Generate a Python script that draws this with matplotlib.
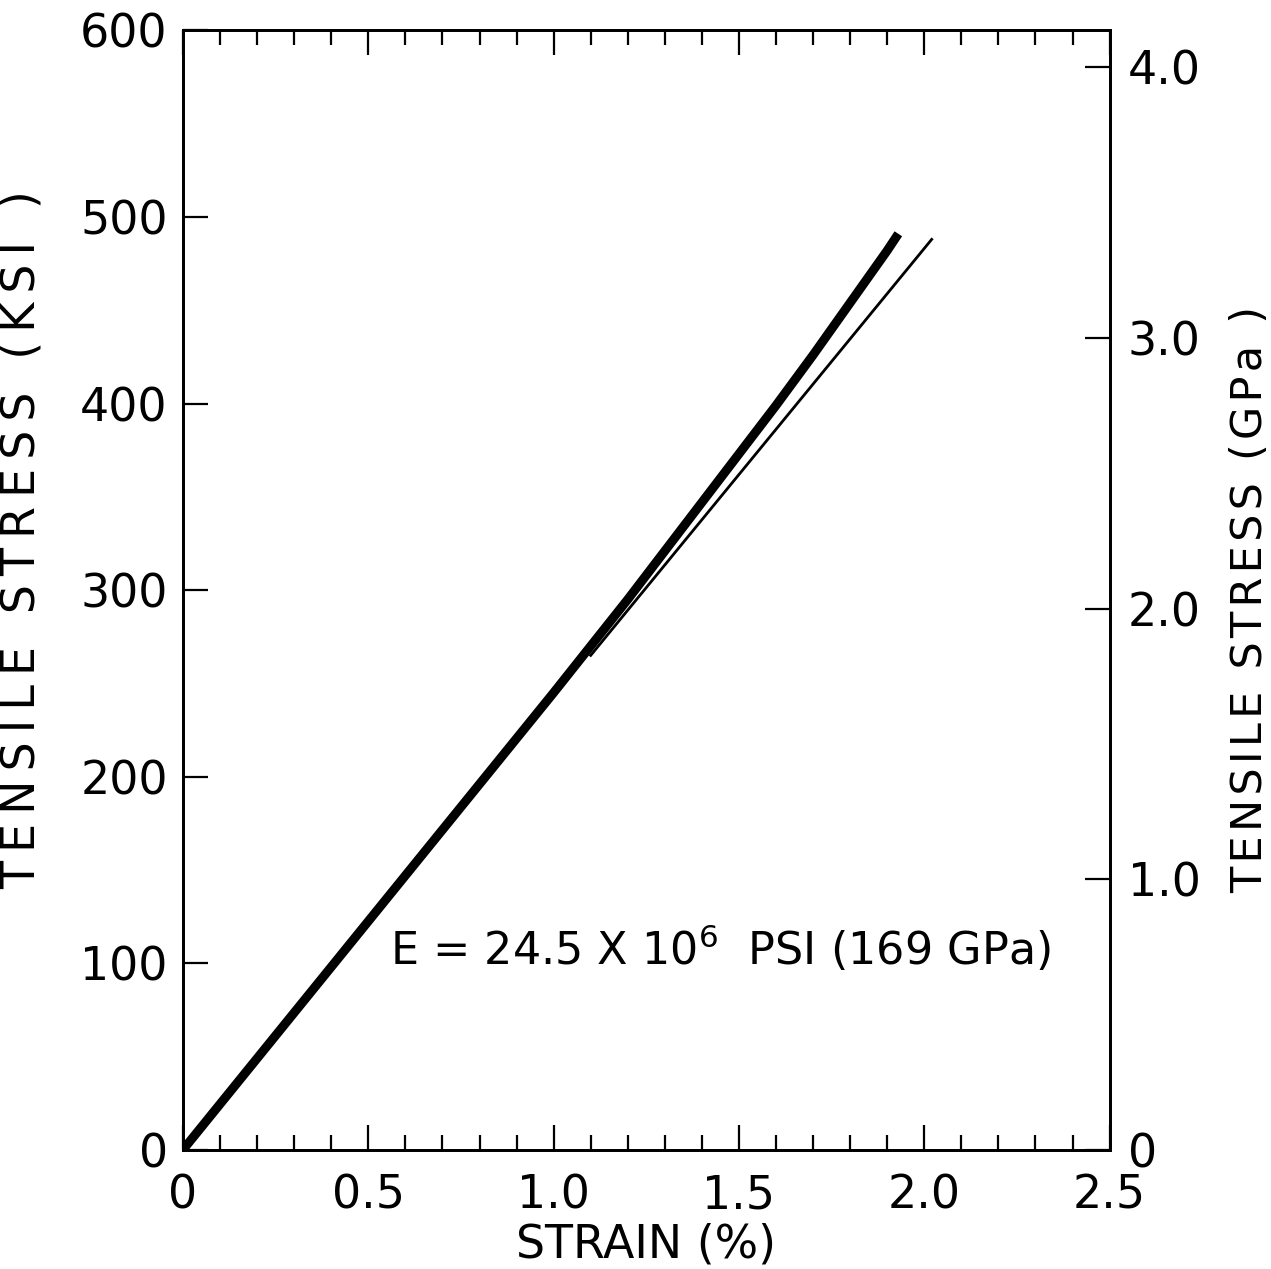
import matplotlib
matplotlib.use("Agg")
import matplotlib.pyplot as plt
from matplotlib.ticker import MultipleLocator, FixedLocator

# curva medida (ksi vs % de deformação)
strain_curve = [0.0, 0.2, 0.4, 0.6, 0.8, 1.0, 1.1, 1.2, 1.3, 1.4, 1.5, 1.6, 1.7, 1.8, 1.9, 1.93]
stress_curve = [0, 49, 98, 147, 196, 245, 270, 295, 321, 347, 373, 399, 426, 454, 482, 491]

# recta do módulo inicial
strain_fit = [1.10, 2.02]
stress_fit = [265, 488]

x_ticks = [0, 0.5, 1.0, 1.5, 2.0, 2.5]
x_labels = ["0", "0.5", "1.0", "1.5", "2.0", "2.5"]
ksi_ticks = [0, 100, 200, 300, 400, 500, 600]
gpa_ticks = [0, 1.0, 2.0, 3.0, 4.0]
gpa_labels = ["0", "1.0", "2.0", "3.0", "4.0"]

KSI_TO_GPA = 0.0068948


def espacado(texto, sep):
    # imita o espaçamento largo das letras do desenho original
    return sep.join(texto)


plt.rcParams["font.family"] = ["DejaVu Sans"]

fig = plt.figure(figsize=(12.71, 12.69), dpi=100)
ax = fig.add_axes([0.144, 0.094, 0.729, 0.882])

ax.plot(strain_curve, stress_curve, color="black", linewidth=6.5, solid_capstyle="butt")
ax.plot(strain_fit, stress_fit, color="black", linewidth=2)

ax.set_xlim(0, 2.5)
ax.set_ylim(0, 600)

ax.xaxis.set_major_locator(FixedLocator(x_ticks))
ax.xaxis.set_minor_locator(MultipleLocator(0.1))
ax.set_xticklabels(x_labels)
ax.yaxis.set_major_locator(FixedLocator(ksi_ticks))

ax.tick_params(axis="x", which="major", direction="in", length=18, width=1.6,
               top=True, labelsize=33, pad=17)
ax.tick_params(axis="x", which="minor", direction="in", length=11, width=1.6, top=True)
ax.tick_params(axis="y", which="major", direction="in", length=18, width=1.6,
               labelsize=33, pad=11)
for s in ax.spines.values():
    s.set_linewidth(2)

ax2 = ax.twinx()
ax2.set_ylim(0, 600 * KSI_TO_GPA)
ax2.yaxis.set_major_locator(FixedLocator(gpa_ticks))
ax2.set_yticklabels(gpa_labels)
ax2.tick_params(axis="y", direction="in", length=18, width=1.6, labelsize=33, pad=13)
for s in ax2.spines.values():
    s.set_linewidth(2)

ax.set_xlabel("STRAIN (%)", fontsize=33, labelpad=3)
ax.set_ylabel(espacado("TENSILE STRESS (KSI )", "\u2009"), fontsize=33)
ax.yaxis.set_label_coords(-0.149, 0.545)
ax2.set_ylabel(espacado("TENSILE STRESS (GPa )", "\u200a"), fontsize=31, rotation=90)
ax2.yaxis.set_label_coords(1.129, 0.492)

ax.text(0.558, 99, r"E = 24.5 X 10$^{6}$  PSI (169 GPa)", fontsize=32,
        ha="left", va="baseline")

fig.savefig("out.png", dpi=100)
plt.close(fig)
